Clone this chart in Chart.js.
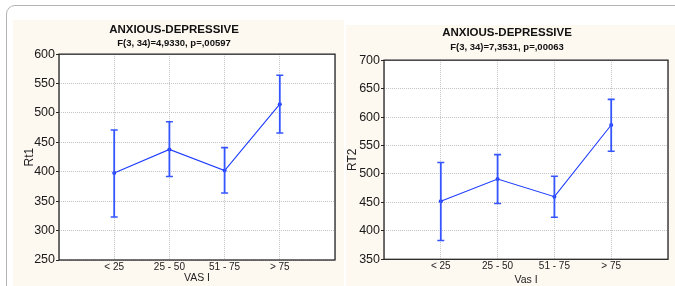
<!DOCTYPE html>
<html>
<head>
<meta charset="utf-8">
<script src="https://cdn.jsdelivr.net/npm/chart.js@4.4.1/dist/chart.umd.min.js"></script>
<style>
  html, body { margin: 0; padding: 0; background: #fff; }
  body { width: 675px; height: 286px; position: relative; overflow: hidden; }
  #frame {
    position: absolute; left: 6px; top: 5px; width: 700px; height: 300px;
    border: 1.5px solid #b4b4b4; border-radius: 9px; box-sizing: border-box;
  }
  canvas { position: absolute; background: #fdf8f0; }
  #chartRt1 { left: 13px; top: 20px; }
  #chartRt2 { left: 346px; top: 25px; }
</style>
</head>
<body>
<div id="frame"></div>
<canvas id="chartRt1" width="331" height="266"></canvas>
<canvas id="chartRt2" width="329" height="261"></canvas>
<script>
// categories on the x axis (empty slots at both ends give the side margins)
const categories = ['< 25', '25 - 50', '51 - 75', '> 75'];
const axisLabels = ['', ...categories, ''];

// Rt1 means and their interval ends
const rt1Mean = [398, 438, 402, 515];
const rt1Low = [323, 392, 364, 466];
const rt1High = [471, 485, 441, 564];

// RT2 means and their interval ends
const rt2Mean = [452, 491, 460, 586];
const rt2Low = [383, 448, 424, 540];
const rt2High = [520, 534, 496, 631];

const rt1Ticks = { min: 250, max: 600, step: 50 };
const rt2Ticks = { min: 350, max: 700, step: 50 };

const lineBlue = '#1e3cff';
const barBlue = '#3556ff';
const baseFont = "'Liberation Sans', Arial, sans-serif";
const narrowFont = "'Liberation Sans Narrow', 'Arial Narrow', 'Liberation Sans', sans-serif";

// white plot area + dark frame around it
const plotFrame = {
    id: 'plotFrame',
    beforeDraw(chart) {
        const { ctx, chartArea: a } = chart;
        ctx.save();
        ctx.fillStyle = '#fff';
        ctx.fillRect(a.left, a.top, a.width, a.height);
        ctx.restore();
    },
    afterDraw(chart) {
        const { ctx, chartArea: a } = chart;
        ctx.save();
        ctx.strokeStyle = '#262626';
        ctx.lineWidth = 1.3;
        ctx.strokeRect(a.left, a.top, a.width, a.height);
        ctx.restore();
    }
};

function errorBarSets(low, high) {
    return categories.map((cat, i) => ({
        data: [{ x: cat, y: low[i] }, { x: cat, y: high[i] }],
        borderColor: barBlue,
        borderWidth: 1.8,
        pointStyle: 'line',
        pointRadius: 3.5,
        pointBorderColor: barBlue,
        pointBorderWidth: 1.6
    }));
}

function buildChart(canvasId, s) {
    const ctx = document.getElementById(canvasId).getContext('2d');
    return new Chart(ctx, {
        type: 'line',
        data: {
            labels: axisLabels,
            datasets: [
                ...errorBarSets(s.low, s.high),
                {
                    data: [null, ...s.mean, null],
                    borderColor: lineBlue,
                    borderWidth: 1.1,
                    pointRadius: 2,
                    pointBackgroundColor: lineBlue,
                    pointBorderColor: lineBlue,
                    pointBorderWidth: 0
                }
            ]
        },
        options: {
            responsive: false,
            animation: false,
            layout: { padding: { right: s.padRight, left: 0, top: 0, bottom: 0 } },
            plugins: {
                legend: { display: false },
                tooltip: { enabled: false },
                title: {
                    display: true,
                    text: 'ANXIOUS-DEPRESSIVE',
                    color: '#111',
                    font: { family: baseFont, size: 11.5, weight: 'bold', lineHeight: 1.15 },
                    padding: { top: s.titleTop, bottom: 0 }
                },
                subtitle: {
                    display: true,
                    text: s.subtitle,
                    color: '#111',
                    font: { family: baseFont, size: 9.5, weight: 'bold', lineHeight: 1.15 },
                    padding: { top: s.subTop, bottom: s.subBottom }
                }
            },
            scales: {
                x: {
                    type: 'category',
                    offset: false,
                    grid: { color: '#c4c4c4', drawTicks: false },
                    border: { display: false, dash: [1, 1] },
                    ticks: {
                        color: '#222', padding: 1, autoSkip: false, maxRotation: 0,
                        font: { family: baseFont, size: 10 }
                    },
                    title: {
                        display: true, text: s.xTitle, color: '#222',
                        font: { family: baseFont, size: 10.5, lineHeight: 1.2 },
                        padding: { top: 0, bottom: s.xTitleBottom }
                    },
                    afterFit(scale) { scale.height = s.xHeight; }
                },
                y: {
                    min: s.ticks.min,
                    max: s.ticks.max,
                    grid: { color: '#c4c4c4', tickColor: '#262626', tickLength: 3 },
                    border: { display: false, dash: [1, 1] },
                    ticks: {
                        stepSize: s.ticks.step, color: '#1a1a1a', padding: 1,
                        font: { family: narrowFont, size: 12.5 }
                    },
                    title: {
                        display: true, text: s.yTitle, color: '#222',
                        font: { family: baseFont, size: 12, lineHeight: 1.2 },
                        padding: { top: s.yTitleTop, bottom: 0 }
                    },
                    afterFit(scale) { scale.width = s.yWidth; }
                }
            }
        },
        plugins: [plotFrame]
    });
}

buildChart('chartRt1', {
    mean: rt1Mean, low: rt1Low, high: rt1High, ticks: rt1Ticks,
    subtitle: 'F(3, 34)=4,9330, p=,00597', xTitle: 'VAS I', yTitle: 'Rt1',
    titleTop: 3.4, subTop: 1, subBottom: 5.6, xHeight: 26, xTitleBottom: 1.5,
    yWidth: 46, yTitleTop: 9, padRight: 9
});

buildChart('chartRt2', {
    mean: rt2Mean, low: rt2Low, high: rt2High, ticks: rt2Ticks,
    subtitle: 'F(3, 34)=7,3531, p=,00063', xTitle: 'Vas I', yTitle: 'RT2',
    titleTop: 1.4, subTop: 2, subBottom: 7.6, xHeight: 26.7, xTitleBottom: -0.5,
    yWidth: 38, yTitleTop: -1, padRight: 7
});
</script>
</body>
</html>
